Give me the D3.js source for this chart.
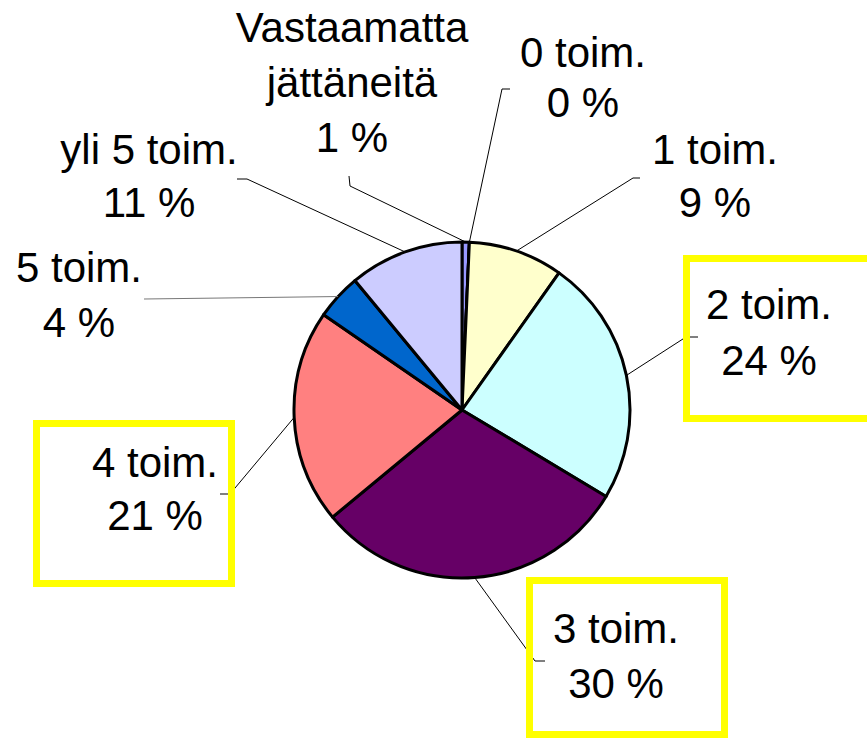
<!DOCTYPE html>
<html>
<head>
<meta charset="utf-8">
<script src="https://cdn.jsdelivr.net/npm/d3@7"></script>
<style>
  html, body { margin: 0; padding: 0; background: #ffffff; }
  svg { display: block; }
  text { font-family: "Liberation Sans", Arial, sans-serif; fill: #000; }
</style>
</head>
<body>
<svg id="chart" width="867" height="740"></svg>
<script>
// ---- data ----
const categories = ["Vastaamatta jättäneitä", "0 toim.", "1 toim.", "2 toim.", "3 toim.", "4 toim.", "5 toim.", "yli 5 toim."];
const labelLines = [["Vastaamatta", "jättäneitä"], ["0 toim."], ["1 toim."], ["2 toim."], ["3 toim."], ["4 toim."], ["5 toim."], ["yli 5 toim."]];
const values = [0.7, 0.0, 9.1, 23.8, 30.4, 20.6, 4.4, 11.0];
const colors = ["#9999FF", "#993366", "#FFFFCC", "#CCFFFF", "#660066", "#FF8080", "#0066CC", "#CCCCFF"];
const highlighted = ["2 toim.", "3 toim.", "4 toim."];

// ---- layout ----
const W = 867, H = 740;
const cx = 462, cy = 410, R = 168;
const fontSize = 42;
const lineGap = 54;
// label anchor: center x, first baseline y
const labelPos = [
  {x: 352, y: 42, gap: 55},
  {x: 583, y: 67, gap: 50},
  {x: 715, y: 164, gap: 53},
  {x: 769, y: 319, gap: 56},
  {x: 616, y: 643, gap: 55},
  {x: 155, y: 477, gap: 53},
  {x: 79,  y: 282, gap: 55},
  {x: 149, y: 164, gap: 53}
];
// leader line starting points near the label (ending at slice)
const leaderStart = [
  [[349, 176], [350, 186]],
  [[510, 89], [502, 89]],
  [[640, 178], [633, 178]],
  [[698, 337], [686, 337]],
  [[545, 661], [535, 661]],
  [[220, 494], [230, 494]],
  [[144, 299]],
  [[237, 179], [247, 179]]
];
const leaderColor = ["#000", "#000", "#000", "#000", "#000", "#000", "#777", "#000"];
// highlight boxes (outer bounds)
const boxes = {
  "2 toim.": {x0: 683, y0: 255, x1: 880, y1: 422},
  "3 toim.": {x0: 526, y0: 577, x1: 728, y1: 738},
  "4 toim.": {x0: 33,  y0: 420, x1: 235, y1: 587}
};
const boxStroke = 7;

const svg = d3.select("#chart");
svg.append("rect").attr("width", W).attr("height", H).attr("fill", "#fff");

const pie = d3.pie().sort(null).value(d => d).startAngle(0).endAngle(2 * Math.PI);
const arcs = pie(values);
const arc = d3.arc().innerRadius(0).outerRadius(R);
const edgeArc = d3.arc().innerRadius(R).outerRadius(R);

const g = svg.append("g").attr("transform", `translate(${cx},${cy})`);

// leader lines
const line = d3.line();
arcs.forEach((a, i) => {
  const end = edgeArc.centroid(a);
  const pts = leaderStart[i].concat([[end[0] + cx, end[1] + cy]]);
  svg.append("path")
    .attr("d", line(pts))
    .attr("fill", "none")
    .attr("stroke", leaderColor[i])
    .attr("stroke-width", 1);
});

// slices
g.selectAll("path.slice")
  .data(arcs)
  .join("path")
  .attr("class", "slice")
  .attr("d", arc)
  .attr("fill", (d, i) => colors[i])
  .attr("stroke", "#000")
  .attr("stroke-width", 3)
  .attr("stroke-linejoin", "round");

// highlight boxes
highlighted.forEach(name => {
  const b = boxes[name];
  svg.append("rect")
    .attr("x", b.x0 + boxStroke / 2)
    .attr("y", b.y0 + boxStroke / 2)
    .attr("width", b.x1 - b.x0 - boxStroke)
    .attr("height", b.y1 - b.y0 - boxStroke)
    .attr("fill", "none")
    .attr("stroke", "#FFFF00")
    .attr("stroke-width", boxStroke);
});

// labels
arcs.forEach((a, i) => {
  const p = labelPos[i];
  const lines = labelLines[i].concat([Math.round(values[i]) + " %"]);
  const t = svg.append("text")
    .attr("text-anchor", "middle")
    .attr("font-size", fontSize);
  lines.forEach((s, k) => {
    t.append("tspan")
      .attr("x", p.x)
      .attr("y", p.y + k * p.gap)
      .text(s);
  });
});
</script>
</body>
</html>
